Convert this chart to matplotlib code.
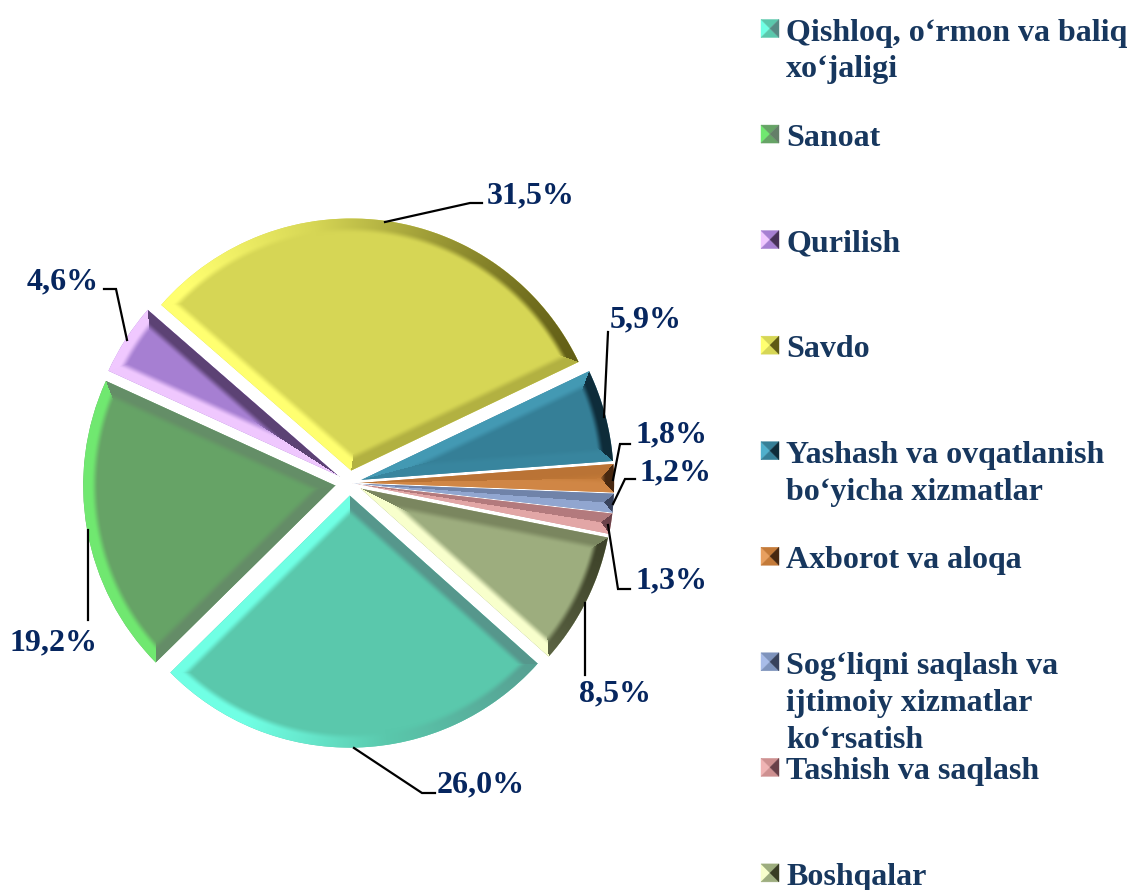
import numpy as np
import matplotlib
matplotlib.use("Agg")
import matplotlib.pyplot as plt
from matplotlib.colors import to_rgb
from matplotlib.patches import Polygon

W, H = 1130, 890

# data
categories = ["Qishloq, o‘rmon va baliq\nxo‘jaligi", "Sanoat", "Qurilish", "Savdo",
              "Yashash va ovqatlanish\nbo‘yicha xizmatlar", "Axborot va aloqa",
              "Sog‘liqni saqlash va\nijtimoiy xizmatlar\nko‘rsatish",
              "Tashish va saqlash", "Boshqalar"]
shares = [26.0, 19.2, 4.6, 31.5, 5.9, 1.8, 1.2, 1.3, 8.5]

# colours: face, lit bevel, shaded bevel
base_colors = ["#5AC8AC", "#66A366", "#A67FD2", "#D6D655", "#357F97",
               "#C47A38", "#7E93BC", "#CE9090", "#9DAD7E"]
light_colors = ["#70FFE4", "#70E870", "#F0C8FF", "#FFFF70", "#50B0CC",
                "#E8A060", "#A8BCE8", "#F0B4B4", "#F8FFCC"]
dark_colors = ["#558A84", "#647E68", "#463058", "#5E5A14", "#0E2C3A",
               "#482810", "#38425C", "#684048", "#383C24"]

# label centre and leader line, in image pixels
label_pos = [(481, 785), (53, 643), (63, 282), (531, 196), (646, 320),
             (671, 435), (676, 473), (671, 581), (615, 694)]
leaders = [[(354, 748), (422, 793), (435, 793)],
           [(88, 530), (88, 620)],
           [(127, 340), (116, 289), (104, 289)],
           [(385, 222), (470, 203), (482, 203)],
           [(604, 417), (608, 332)],
           [(613, 480), (620, 444), (630, 444)],
           [(613, 504), (625, 479), (635, 479)],
           [(608, 525), (618, 589), (630, 589)],
           [(585, 603), (585, 675)]]
slice_gaps = [12.6, 14.5, 14, 12.6, 12.6, 12.6, 12.6, 12.6, 12.6]

plt.rcParams["font.family"] = ["Liberation Serif", "DejaVu Serif"]
plt.rcParams["font.weight"] = "bold"

fig = plt.figure(figsize=(W / 100, H / 100), dpi=100)
ax = fig.add_axes([0, 0, 1, 1])


def px(x, y):
    return x, H - y


def bevel_image(wedge, face, light, dark, width=14.0):
    """RGBA picture of one slice with a bevelled rim, lit from the left."""
    cx, cy = wedge.center
    R = wedge.r
    t1, t2 = np.radians(wedge.theta1), np.radians(wedge.theta2)
    x0, x1 = int(np.floor(cx - R - 2)), int(np.ceil(cx + R + 2))
    y0, y1 = int(np.floor(cy - R - 2)), int(np.ceil(cy + R + 2))
    xx, yy = np.meshgrid(np.arange(x0, x1) + 0.5, np.arange(y0, y1) + 0.5)
    dx, dy = xx - cx, yy - cy
    r = np.hypot(dx, dy) + 1e-6

    # distance to the arc and to the two straight edges, with outward normals
    n1 = (np.sin(t1), -np.cos(t1))
    n2 = (-np.sin(t2), np.cos(t2))
    dists = np.stack([R - r, -(dx * n1[0] + dy * n1[1]), -(dx * n2[0] + dy * n2[1])])
    nx = np.stack([dx / r, np.full_like(r, n1[0]), np.full_like(r, n2[0])])
    ny = np.stack([dy / r, np.full_like(r, n1[1]), np.full_like(r, n2[1])])
    which = np.argmin(dists, axis=0)
    d = np.take_along_axis(dists, which[None], axis=0)[0]
    normal_x = np.take_along_axis(nx, which[None], axis=0)[0]
    normal_y = np.take_along_axis(ny, which[None], axis=0)[0]

    s = -normal_x - 0.15 * normal_y
    s = np.where(s > 0, np.clip(s * 1.8, 0, 1), np.clip(s, -1, 0))
    t = np.clip((d - 0.55 * width) / (0.55 * width), 0, 1)
    profile = 1 - t * t * (3 - 2 * t)

    f, l, k = np.array(to_rgb(face)), np.array(to_rgb(light)), np.array(to_rgb(dark))
    amount = np.abs(s) * profile
    target = np.where((s > 0)[..., None], l, k)
    rgb = f + (target - f) * amount[..., None]
    alpha = np.clip(d + 0.5, 0, 1)
    return np.dstack([rgb, alpha]), (x0, x1, y0, y1)


# pie takes explode in data units, here pixels
wedges, _ = ax.pie(shares, explode=slice_gaps, colors=base_colors,
                   center=px(349.5, 483), radius=252, startangle=90 - 131.8,
                   counterclock=False, frame=True,
                   wedgeprops={"linewidth": 0})

for i, wedge in enumerate(wedges):
    img, extent = bevel_image(wedge, base_colors[i], light_colors[i], dark_colors[i])
    ax.imshow(img, extent=extent, origin="lower", interpolation="nearest",
              aspect="equal", zorder=2)

# leader lines and value labels
for value, pos, line in zip(shares, label_pos, leaders):
    xs, ys = zip(*[px(*p) for p in line])
    ax.plot(xs, ys, color="black", lw=1.6, zorder=3, solid_joinstyle="miter")
    ax.text(*px(*pos), f"{value:.1f}%".replace(".", ","), fontsize=23, color="#06265F",
            fontweight="bold", ha="center", va="center", zorder=4)

# legend by hand because of the bevelled keys
for i, label in enumerate(categories):
    cy = 28.5 + i * 105.55
    x0, x1, y0, y1 = 761, 779, cy - 9, cy + 9
    mid = ((x0 + x1) / 2, cy)
    faces = [([(x0, y0), mid, (x0, y1)], light_colors[i]),
             ([(x0, y0), mid, (x1, y0)], base_colors[i]),
             ([(x0, y1), mid, (x1, y1)], base_colors[i]),
             ([(x1, y0), mid, (x1, y1)], dark_colors[i])]
    for pts, col in faces:
        ax.add_patch(Polygon([px(*p) for p in pts], closed=True, facecolor=col,
                             edgecolor=col, lw=0.3, zorder=3))
    for j, line in enumerate(label.split("\n")):
        ax.text(*px(786, cy + 12 + j * 37), line, fontsize=23, color="#17375E",
                fontweight="bold", ha="left", va="baseline", zorder=4)

ax.set_xlim(0, W)
ax.set_ylim(0, H)
ax.axis("off")
fig.savefig("out.png", dpi=100, facecolor="white")
